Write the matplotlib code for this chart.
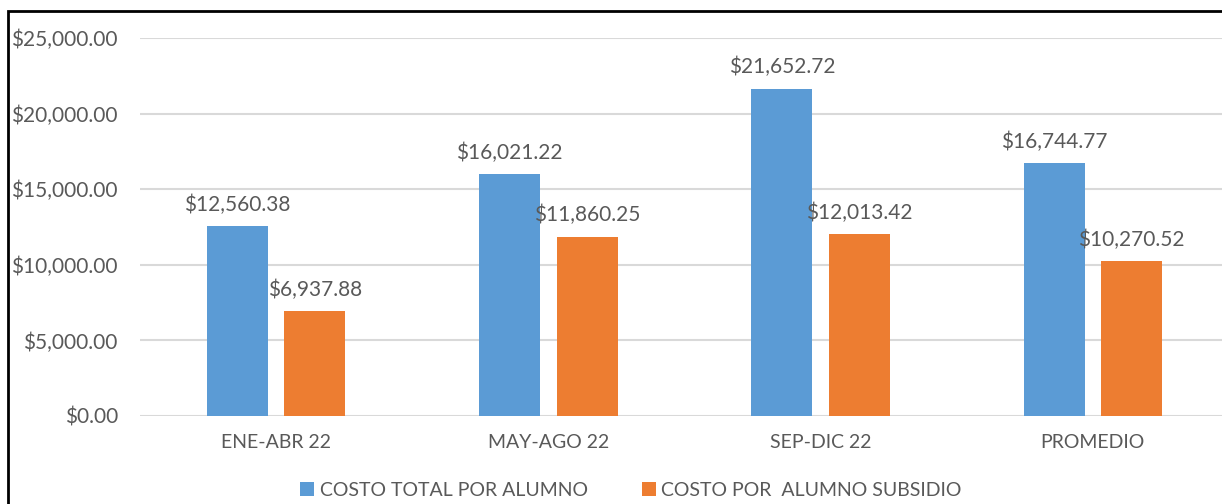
import matplotlib.pyplot as plt
import numpy as np
from matplotlib.patches import Rectangle
from matplotlib.ticker import FuncFormatter

# datos
periodos = ['ENE-ABR 22', 'MAY-AGO 22', 'SEP-DIC 22', 'PROMEDIO']
costo_total = [12560.38, 16021.22, 21652.72, 16744.77]
costo_subsidio = [6937.88, 11860.25, 12013.42, 10270.52]
series = ['COSTO TOTAL POR ALUMNO', 'COSTO POR  ALUMNO SUBSIDIO']

azul = '#5B9BD5'
naranja = '#ED7D31'
gris = '#595959'

plt.rcParams['font.family'] = ['Lato', 'DejaVu Sans']

fig = plt.figure(figsize=(12.22, 5.04), dpi=100)
ax = fig.add_axes([140 / 1222, 88 / 504, 1089 / 1222, 378 / 504])

x = np.arange(len(periodos))
ancho = 0.224
b1 = ax.bar(x - 0.142, costo_total, ancho, color=azul, label=series[0], zorder=3)
b2 = ax.bar(x + 0.142, costo_subsidio, ancho, color=naranja, label=series[1], zorder=3)

for barras in (b1, b2):
    for b in barras:
        v = b.get_height()
        ax.annotate(f'${v:,.2f}', (b.get_x() + b.get_width() / 2, v),
                    xytext=(0, 8), textcoords='offset points',
                    ha='center', va='bottom', fontsize=15, color=gris)

ax.set_xlim(-0.5, 3.5)
ax.set_ylim(0, 25000)
ax.set_yticks(np.arange(0, 25001, 5000))
ax.yaxis.set_major_formatter(FuncFormatter(lambda v, p: f'${v:,.2f}'))
ax.set_xticks(x)
ax.set_xticklabels(periodos)
ax.tick_params(axis='both', length=0, colors=gris)
ax.tick_params(axis='y', pad=16, labelsize=15)
ax.tick_params(axis='x', pad=13, labelsize=14)
ax.grid(axis='y', color='#D9D9D9', linewidth=1.5, zorder=0)
for s in ax.spines.values():
    s.set_visible(False)

fig.legend(loc='center', bbox_to_anchor=(631 / 1222, 14 / 504), ncol=2,
           frameon=False, fontsize=14, labelcolor=gris, handlelength=0.7,
           handleheight=0.7, columnspacing=2.8, handletextpad=0.3)

# marco del grafico
fig.patches.append(Rectangle((8 / 1222, -0.1), 1.2, (504 - 11) / 504 + 0.1,
                             transform=fig.transFigure, fill=False,
                             edgecolor='black', linewidth=2))

fig.savefig('out.png', dpi=100)
